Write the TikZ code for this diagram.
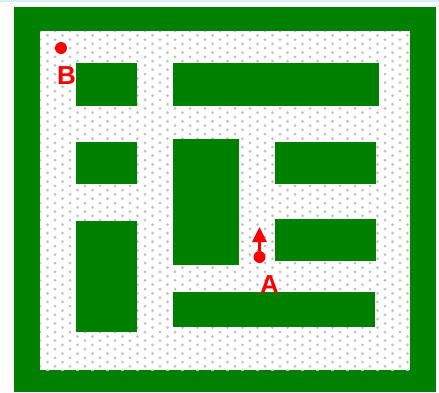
\documentclass[tikz,border=0pt]{standalone}
\usepackage{fontspec}
\setmainfont{Liberation Sans}
\usetikzlibrary{arrows.meta,positioning}
\definecolor{mazegreen}{RGB}{0,128,0}
\definecolor{topstrip}{RGB}{207,244,252}

\begin{document}
\begin{tikzpicture}[
    x=1pt, y=-1pt,
    wall/.style={
        fill=mazegreen,
        draw=none
    },
    floordot/.style={
        fill=gray!50
    },
    marker/.style={
        circle,
        fill=red,
        inner sep=0pt,
        minimum size=12pt
    },
    tag/.style={
        text=red,
        inner sep=0pt,
        font=\fontsize{26}{28}\selectfont\bfseries
    },
    arrow/.style={
        -{Triangle[width=14pt,length=15pt]},
        line width=2.7pt,
        red
    }
]
\useasboundingbox (0,0) rectangle (439,392);

% Top strip
\fill[topstrip] (0,0) rectangle (439,2);

% Outer wall
\fill[wall] (14,7) rectangle (436,392);
\fill[white] (40,31) rectangle (410,370);

% Dotted floor
\begin{scope}
\clip (40,31) rectangle (410,370);
\foreach \i in {0,...,50}
  \foreach \j in {0,...,40}
    \fill[floordot] ({40+\i*7.5}, {31+\j*8.6+mod(\i,2)*4.3}) circle (1.5pt);
\end{scope}

% Inner walls
\fill[wall] (76,63) rectangle (137,106);
\fill[wall] (173,63) rectangle (379,106);
\fill[wall] (76,142) rectangle (137,184);
\fill[wall] (76,221) rectangle (137,332);
\fill[wall] (173,139) rectangle (239,265);
\fill[wall] (275,142) rectangle (376,184);
\fill[wall] (275,219) rectangle (376,261);
\fill[wall] (173,292) rectangle (375,327);

% Point B
\node[marker] (dotB) at (61,48) {};
\node[tag] (labB) at (66.5,76) {B};

% Point A with heading
\node[marker] (dotA) at (259.5,257) {};
\coordinate (tipA) at (259.5,227);
\draw[arrow] (dotA) -- (tipA);
\node[tag] (labA) at (269.5,284.5) {A};

\end{tikzpicture}
\end{document}
